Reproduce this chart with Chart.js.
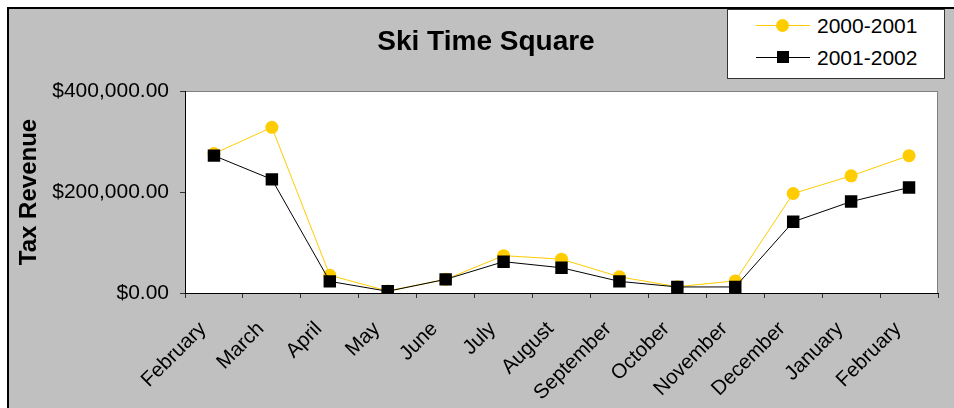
<!DOCTYPE html>
<html>
<head>
<meta charset="utf-8">
<title>Ski Time Square</title>
<script src="https://cdn.jsdelivr.net/npm/chart.js@4.4.1/dist/chart.umd.min.js"></script>
<style>
  body { margin: 0; background: #fff; }
  #wrap { position: relative; width: 954px; height: 408px; font-family: "Liberation Sans", Arial, sans-serif; }
  #title {
    position: absolute; left: 286px; width: 400px; top: 24px;
    text-align: center; font-weight: bold; font-size: 28px; line-height: 34px; color: #000;
  }
  #legend {
    position: absolute; left: 727px; top: 9px; width: 216px; height: 68px;
    background: #fff; border: 1px solid #333;
  }
  .row { position: absolute; left: 0; height: 28px; width: 100%; }
  .row .ln { position: absolute; left: 28px; width: 54px; top: 13px; height: 1px; }
  .row .mk { position: absolute; }
  .row span { position: absolute; left: 89px; top: 2px; font-size: 21px; line-height: 24px; color: #000; }
</style>
</head>
<body>
<div id="wrap">
  <canvas id="skiChart" width="954" height="408"></canvas>
  <div id="title">Ski Time Square</div>
  <div id="legend">
    <div class="row" style="top:2px">
      <div class="ln" style="background:#ffcc00"></div>
      <div class="mk" style="left:48px;top:7px;width:13px;height:13px;border-radius:50%;background:#ffcc00"></div>
      <span>2000-2001</span>
    </div>
    <div class="row" style="top:34px">
      <div class="ln" style="background:#000"></div>
      <div class="mk" style="left:49px;top:7px;width:12px;height:12px;background:#000"></div>
      <span>2001-2002</span>
    </div>
  </div>
</div>
<script>
// ---- data ----
const months = ['February', 'March', 'April', 'May', 'June', 'July', 'August',
  'September', 'October', 'November', 'December', 'January', 'February'];
const revenue2000 = [276000, 328000, 35000, 4000, 27000, 74000, 67000, 32000, 12500, 24000, 197000, 232000, 272000];
const revenue2001 = [272000, 225000, 23000, 3400, 27000, 62000, 50000, 23000, 12000, 12000, 141000, 181000, 209000];
const yTicks = [0, 200000, 400000];

const FONT = '"Liberation Sans", Arial, sans-serif';

// gray frame + white plot area
const framePlugin = {
  id: 'frame',
  beforeDraw(chart) {
    const { ctx, chartArea: a, width, height } = chart;
    ctx.save();
    ctx.fillStyle = '#fff';
    ctx.fillRect(0, 0, width, height);
    ctx.fillStyle = '#c0c0c0';
    ctx.fillRect(8, 8, width - 8, height - 8);
    ctx.fillStyle = '#000';
    ctx.fillRect(7, 7, width - 7, 2);
    ctx.fillRect(7, 7, 2, height - 7);
    ctx.fillStyle = '#fff';
    ctx.fillRect(a.left, a.top, a.right - a.left, a.bottom - a.top);
    ctx.strokeStyle = '#808080';
    ctx.lineWidth = 1;
    ctx.strokeRect(a.left + 0.5, a.top + 0.5, a.right - a.left - 1, a.bottom - a.top);
    ctx.restore();
  }
};

new Chart(document.getElementById('skiChart'), {
  type: 'line',
  data: {
    labels: months,
    datasets: [{
      label: '2000-2001',
      data: revenue2000,
      borderColor: '#ffcc00',
      backgroundColor: '#ffcc00',
      borderWidth: 1,
      pointStyle: 'circle',
      pointRadius: 6.5,
      pointBorderWidth: 0,
      tension: 0,
      order: 1
    }, {
      label: '2001-2002',
      data: revenue2001,
      borderColor: '#000',
      backgroundColor: '#000',
      borderWidth: 1,
      pointStyle: 'rect',
      pointRadius: 8.8,
      pointBorderWidth: 0,
      tension: 0,
      order: 0
    }]
  },
  options: {
    responsive: false,
    animation: false,
    layout: { padding: { top: 91, right: 16, left: 0, bottom: 0 } },
    plugins: {
      legend: { display: false },
      title: { display: false },
      tooltip: { enabled: false }
    },
    scales: {
      x: {
        offset: true,
        afterFit: s => { s.height = 115; },
        grid: { offset: true, drawOnChartArea: false, tickLength: 5, color: '#333' },
        border: { color: '#000', width: 1 },
        ticks: {
          minRotation: 45, maxRotation: 45, autoSkip: false, padding: 19, labelOffset: -11,
          color: '#000', font: { family: FONT, size: 20.5 }
        }
      },
      y: {
        min: 0,
        max: 400000,
        afterFit: s => { s.width = 185; },
        afterBuildTicks: s => { s.ticks = yTicks.map(v => ({ value: v })); },
        grid: { drawOnChartArea: false, tickLength: 5, color: '#333' },
        border: { color: '#000', width: 1 },
        ticks: {
          padding: 11,
          color: '#000',
          font: { family: FONT, size: 21 },
          callback: v => '$' + v.toLocaleString('en-US', { minimumFractionDigits: 2, maximumFractionDigits: 2 })
        },
        title: {
          display: true,
          text: 'Tax Revenue',
          color: '#000',
          font: { family: FONT, size: 24, weight: 'bold' },
          padding: { top: 15, bottom: 0 }
        }
      }
    }
  },
  plugins: [framePlugin]
});
</script>
</body>
</html>
